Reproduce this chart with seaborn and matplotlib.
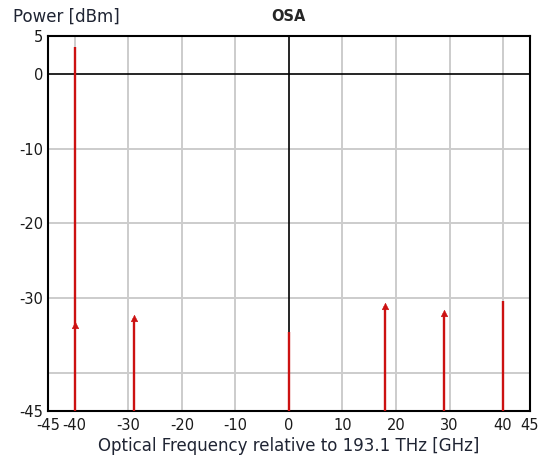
import numpy as np
import matplotlib
matplotlib.use("Agg")
import matplotlib.pyplot as plt
import seaborn as sns

# stem lines (frequency offset in GHz, peak power in dBm)
freqs = [-40, -29, 0, 18, 29, 40]
powers = [3.6, -32.6, -34.5, -31.0, -32.0, -30.4]

# small triangle markers on some of the stems
marker_freqs = [-40, -29, 18, 29]
marker_powers = [-33.5, -32.6, -31.0, -32.0]

xticks = [-45, -40, -30, -20, -10, 0, 10, 20, 30, 40, 45]
xticklabels = ["-45", "-40", "-30", "-20", "-10", "0", "10", "20", "30", "40", "45"]
yticks = [5, 0, -10, -20, -30, -40, -45]
yticklabels = ["5", "0", "-10", "-20", "-30", "", "-45"]

sns.set_style("white")
plt.rcParams['font.family'] = ['DejaVu Sans']

fig = plt.figure(figsize=(5.39, 4.65), dpi=100)
ax = fig.add_axes([0.089, 0.117, 0.894, 0.805])

red = "#cc1111"
ymin, ymax = -45, 5

# grid
for gx in [-40, -30, -20, -10, 10, 20, 30, 40]:
    ax.axvline(gx, color="#cccccc", lw=1.4, zorder=0)
for gy in [-10, -20, -30, -40]:
    ax.axhline(gy, color="#cccccc", lw=1.4, zorder=0)
ax.axhline(0, color="black", lw=1.2, zorder=1)
ax.axvline(0, color="black", lw=1.2, zorder=1)

# stems
ax.vlines(freqs, ymin, powers, color=red, lw=1.7, zorder=3)
sns.scatterplot(x=marker_freqs, y=marker_powers, marker="^", s=22, color=red,
                edgecolor=red, ax=ax, zorder=4, legend=False)

ax.set_xlim(-45, 45)
ax.set_ylim(ymin, ymax)
ax.set_xticks(xticks)
ax.set_xticklabels(xticklabels)
ax.set_yticks(yticks)
ax.set_yticklabels(yticklabels)
ax.tick_params(direction="in", length=4, width=1.2, labelsize=10.5,
               colors="black", labelcolor="#1a1a1a")
ax.tick_params(axis="x", pad=5)

for s in ax.spines.values():
    s.set_color("black")
    s.set_linewidth(1.5)

ax.set_xlabel("Optical Frequency relative to 193.1 THz [GHz]", fontsize=12,
              color="#1f2433", labelpad=3)
fig.text(0.025, 0.965, "Power [dBm]", fontsize=12, color="#1f2433", va="center")
fig.text(0.535, 0.965, "OSA", fontsize=10.5, fontweight="bold", ha="center", va="center")

fig.savefig("out.png", dpi=100)
